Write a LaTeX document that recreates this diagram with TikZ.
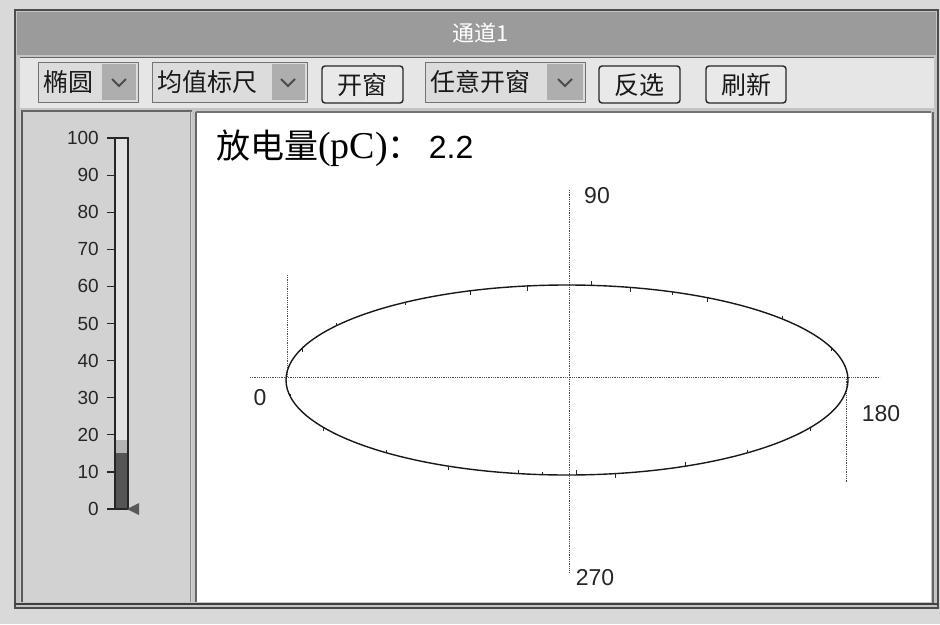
\documentclass[tikz,border=0pt]{standalone}
\usepackage{fontspec}
\setmainfont{Liberation Serif}
\setsansfont{Liberation Sans}
\newfontfamily\cjk{Noto Sans CJK SC}
\definecolor{bgout}{HTML}{D9D9D9}
\definecolor{framec}{HTML}{C4C4C4}
\definecolor{titlebar}{HTML}{9B9B9B}
\definecolor{toolbg}{HTML}{E6E6E6}
\definecolor{cbfill}{HTML}{DCDCDC}
\definecolor{arrowbox}{HTML}{AEAEAE}
\definecolor{btnfill}{HTML}{E9E9E9}
\definecolor{leftbg}{HTML}{D2D2D2}
\definecolor{tubec}{HTML}{E2E2E2}
\definecolor{barlight}{HTML}{B4B4B4}
\definecolor{bardark}{HTML}{555555}
\begin{document}
\begin{tikzpicture}[x=1pt,y=-1pt,
  combo/.style={draw=black!55, fill=cbfill, line width=0.9pt},
  btnbox/.style={draw=black!85, fill=btnfill, rounded corners=3pt, line width=1.4pt},
  tbtext/.style={font=\cjk\fontsize{25}{25}\selectfont, inner sep=0pt, text=black!90},
  chev/.style={line width=1.8pt, draw=black!70},
  axl/.style={densely dotted, line width=0.8pt, draw=black!70},
  num/.style={font=\sffamily\fontsize{23}{23}\selectfont, inner sep=0pt, text=black!85},
  scl/.style={font=\sffamily\fontsize{19}{19}\selectfont, inner sep=0pt, anchor=east, text=black!85}]
\useasboundingbox (0,0) rectangle (940,624);
% outer background
\fill[bgout] (0,0) rectangle (940,624);
% window frame
\fill[framec] (15,10) rectangle (938,608);
\draw[black!70, line width=1.5pt] (15,10) rectangle (938,608);
% title bar
\fill[titlebar] (17,12) rectangle (936,55);
\node[font=\cjk\fontsize{22}{22}\selectfont, text=white, inner sep=0pt] (title) at (481,33) {通道1};
% toolbar
\fill[toolbg] (20,57) rectangle (934,108);
\draw[black!60, line width=1pt] (20,57) -- (934,57);
% combo 1
\draw[combo] (38,62) rectangle (138,102);
\fill[arrowbox] (102,64) rectangle (136,100);
\draw[chev] (112,79) -- (119,86) -- (126,79);
\node[tbtext, anchor=west] (c1) at (43,82) {椭圆};
% combo 2
\draw[combo] (152,62) rectangle (307,102);
\fill[arrowbox] (272,64) rectangle (305,100);
\draw[chev] (281,79) -- (288,86) -- (295,79);
\node[tbtext, anchor=west] (c2) at (157,82) {均值标尺};
% button 1
\draw[btnbox] (322,66) rectangle (403,103);
\node[tbtext] (b1) at (362,85) {开窗};
% combo 3
\draw[combo] (425,62) rectangle (585,102);
\fill[arrowbox] (547,64) rectangle (583,100);
\draw[chev] (558,79) -- (565,86) -- (572,79);
\node[tbtext, anchor=west] (c3) at (430,82) {任意开窗};
% button 2
\draw[btnbox] (599,66) rectangle (680,103);
\node[tbtext] (b2) at (639,85) {反选};
% button 3
\draw[btnbox] (706,66) rectangle (786,103);
\node[tbtext] (b3) at (746,85) {刷新};
% left panel
\fill[leftbg] (20,110) rectangle (192,602);
\draw[black!65, line width=2pt] (22,110) -- (22,602);
\draw[black!60, line width=1.2pt] (22,111) -- (192,111);
\draw[black!45, line width=1pt] (190,111) -- (190,602);
% right panel
\fill[white] (196,112) rectangle (931,602);
\draw[black!60, line width=1.6pt] (196,112) -- (196,602);
\draw[black!55, line width=1.2pt] (196,112) -- (931,112);
\draw[black!60, line width=2.5pt] (933,112) -- (933,604);
% bottom edge
\draw[black!75, line width=2.2pt] (15,604) -- (938,604);
% thermometer tube
\fill[tubec] (115,138) rectangle (128,509);
\fill[barlight] (115,440) rectangle (128,453);
\fill[bardark] (115,453) rectangle (128,509);
\draw[black!85, line width=1.4pt] (115,509) -- (115,138) -- (128,138) -- (128,509) -- (115,509);
\foreach \k in {0,...,10} {
  \pgfmathsetmacro{\yy}{509-37.1*\k}
  \pgfmathtruncatemacro{\vv}{10*\k}
  \draw[black!85, line width=1.2pt] (107,\yy) -- (115,\yy);
  \node[scl] (s\k) at (99,\yy) {\vv};
}
\fill[black!65] (127,509) -- (139,503) -- (139,515) -- cycle;
% plot title
\node[anchor=base west, inner sep=0pt] (ptitle) at (216,158)
  {{\cjk\fontsize{34}{34}\selectfont 放电量}{\rmfamily\fontsize{38}{38}\selectfont (pC)}{\cjk\fontsize{34}{34}\selectfont ：}\hspace{7pt}{\sffamily\fontsize{32}{32}\selectfont 2.2}};
% axes
\coordinate (vt) at (569,190);
\coordinate (vb) at (569,572);
\coordinate (hl) at (250,377);
\coordinate (hr) at (880,377);
\coordinate (lt) at (287,275);
\coordinate (lb) at (287,377);
\coordinate (rt) at (846,377);
\coordinate (rb) at (846,483);
\draw[axl] (vt) -- (vb);
\draw[axl] (hl) -- (hr);
\draw[axl] (lt) -- (lb);
\draw[axl] (rt) -- (rb);
% ellipse
\coordinate (ec) at (567,380);
\draw[black!90, line width=1.4pt] (ec) ellipse [x radius=281pt, y radius=95pt];
\foreach \a/\l in {100/-4,115/4,130/-3,150/3,170/-3,200/4,215/-3,235/3,250/4,262/5,275/-4,283/5,292/3,300/4,320/-3,340/3,30/3,50/-3,65/-4,80/4,88/-5,95/-3}
  \draw[black!85, line width=1pt] ({567+281*cos(\a)},{380+95*sin(\a)}) -- ++(0,\l);
% angle labels
\node[num] (l90) at (597,196) {90};
\node[num] (l270) at (595,578) {270};
\node[num] (l0) at (260,398) {0};
\node[num] (l180) at (881,414) {180};
\end{tikzpicture}
\end{document}
